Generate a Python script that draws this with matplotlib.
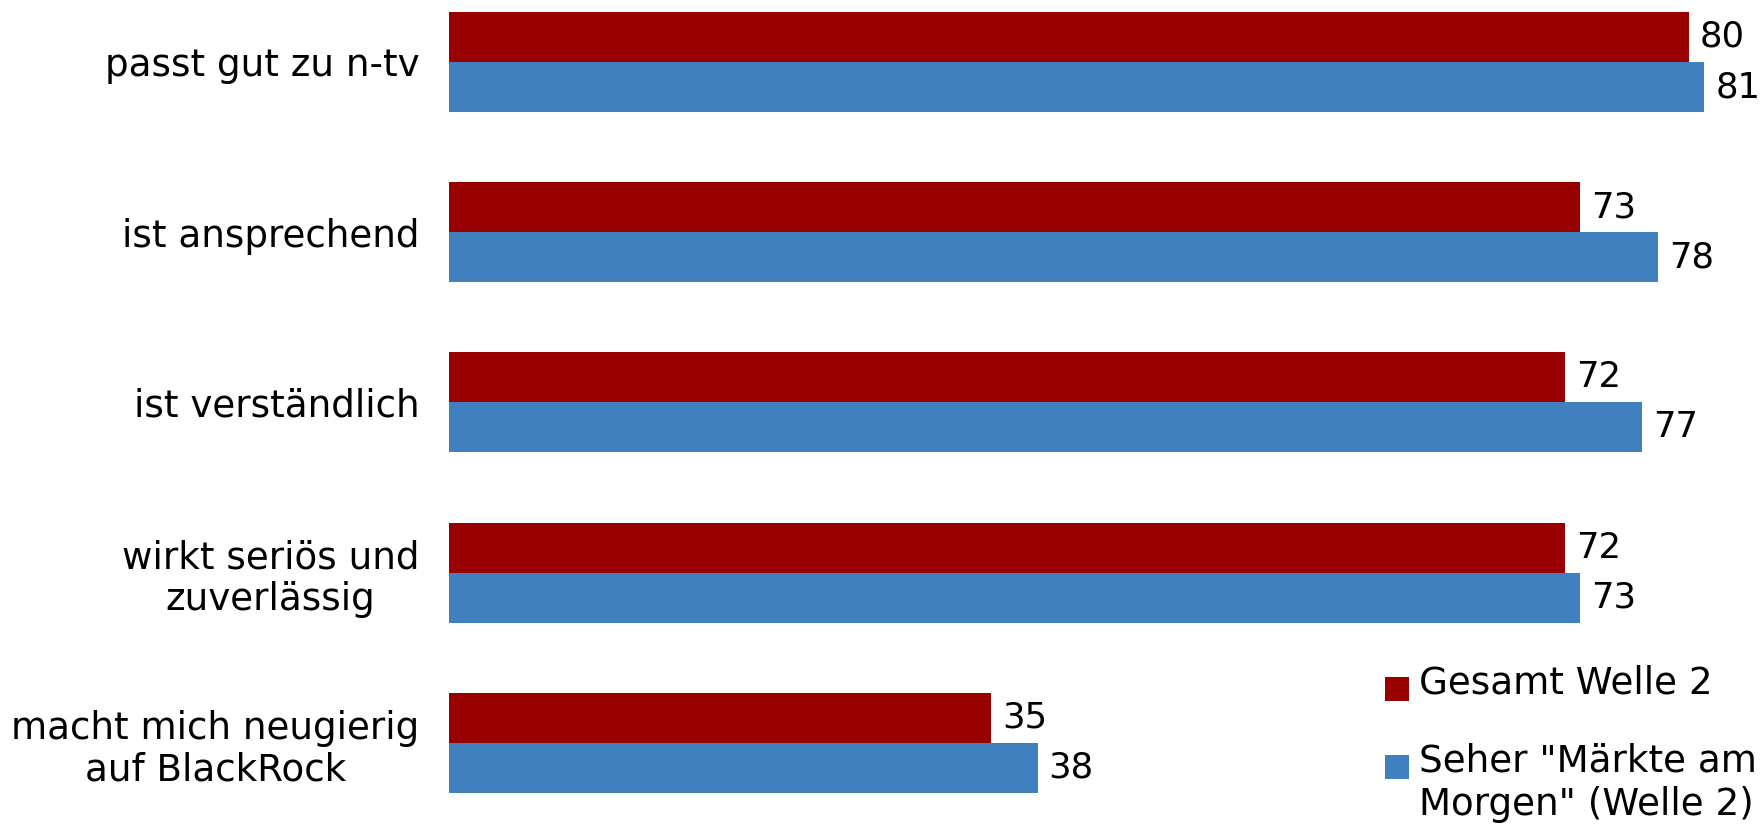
import matplotlib
matplotlib.use("Agg")
import matplotlib.pyplot as plt
from matplotlib.patches import Rectangle
import numpy as np

categories = [
    "passt gut zu n-tv",
    "ist ansprechend",
    "ist verständlich",
    "wirkt seriös und\nzuverlässig",
    "macht mich neugierig\nauf BlackRock",
]
gesamt = [80, 73, 72, 72, 35]
seher = [81, 78, 77, 73, 38]
series_names = ["Gesamt Welle 2", "Seher \"Märkte am\nMorgen\" (Welle 2)"]
colors = ["#990000", "#4080BF"]

plt.rcParams['font.family'] = ['DejaVu Sans']
W, H = 1762, 824
fig = plt.figure(figsize=(W / 100, H / 100), dpi=100)
left_px = 448.5
ax = fig.add_axes([left_px / W, 0, 1 - left_px / W, 1])

px_per_unit = 15.506
group_px = 170.2
first_center_px = 62.0
ax.set_xlim(0, (W - left_px) / px_per_unit)
ax.set_ylim((H - first_center_px) / group_px, -first_center_px / group_px)

y = np.arange(len(categories))
h = 0.294
ax.barh(y - h / 2, gesamt, height=h, color=colors[0], edgecolor='none')
ax.barh(y + h / 2, seher, height=h, color=colors[1], edgecolor='none')

fs_num = 25.5
fs_lab = 26.8
for yi, v in zip(y, gesamt):
    ax.text(v + 0.7, yi - h / 2, f"{v}", va='center', ha='left', fontsize=fs_num, color='#000000')
for yi, v in zip(y, seher):
    ax.text(v + 0.7, yi + h / 2, f"{v}", va='center', ha='left', fontsize=fs_num, color='#000000')

ax.set_yticks(y)
ax.set_yticklabels(categories, fontsize=fs_lab)
for lab in ax.get_yticklabels():
    lab.set_multialignment('center')
    lab.set_linespacing(1.15)
ax.tick_params(axis='y', length=0, pad=21)
ax.set_xticks([])
for s in ax.spines.values():
    s.set_visible(False)

# legend (manual, square aligned with first text line)
leg_items = [(series_names[0], colors[0], 689), (series_names[1], colors[1], 767)]
for name, col, cy in leg_items:
    fig.add_artist(Rectangle((1385 / W, 1 - (cy + 12) / H), 24 / W, 24 / H,
                             transform=fig.transFigure, facecolor=col, edgecolor='none'))
    fig.text(1419 / W, 1 - (cy - 24) / H, name, ha='left', va='top', fontsize=fs_lab,
             linespacing=1.22, color='#000000')

fig.savefig("out.png", dpi=100)
